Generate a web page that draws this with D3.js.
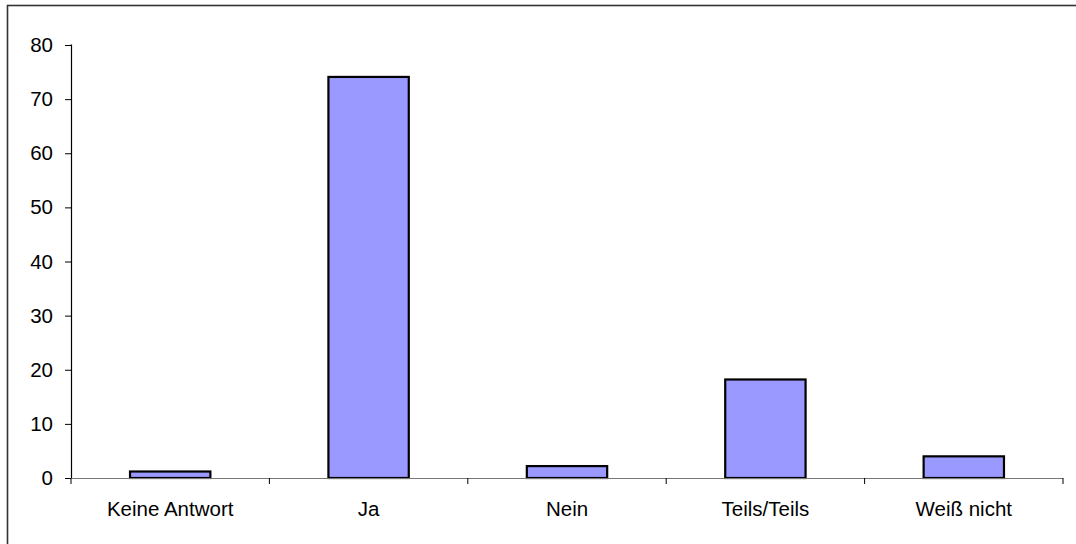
<!DOCTYPE html>
<html><head><meta charset="utf-8">
<script src="https://cdn.jsdelivr.net/npm/d3@7"></script>
<style>body{margin:0;background:#fff}svg{display:block}</style>
</head><body>
<svg id="c" width="1076" height="544"></svg>
<script>
const categories = ["Keine Antwort", "Ja", "Nein", "Teils/Teils", "Weiß nicht"];
const values = [1.2, 74.1, 2.2, 18.2, 4.0];
const yTicks = [0, 10, 20, 30, 40, 50, 60, 70, 80];

const svg = d3.select("#c");
const font = "'Liberation Sans', Arial, sans-serif";

// outer frame (top and left visible)
svg.append("rect").attr("x", 7.5).attr("y", 5.5).attr("width", 1200).attr("height", 700)
  .attr("fill", "none").attr("stroke", "#333").attr("stroke-width", 1.6);

const x0 = 71, x1 = 1063, yTop = 45, yBot = 478;
const x = d3.scaleBand().domain(categories).range([x0, x1]).paddingInner(0).paddingOuter(0);
const y = d3.scaleLinear().domain([0, 80]).range([yBot, yTop]);
const bw = x.bandwidth() * 0.405;

// bars
svg.append("g").selectAll("rect").data(values).join("rect")
  .attr("x", (d, i) => x(categories[i]) + x.bandwidth() / 2 - bw / 2)
  .attr("y", d => y(d))
  .attr("width", bw)
  .attr("height", d => yBot - y(d))
  .attr("fill", "#9999FF").attr("stroke", "#000").attr("stroke-width", 2.2);

// y axis
const ya = svg.append("g").attr("transform", `translate(${x0},0)`)
  .call(d3.axisLeft(y).tickValues(yTicks).tickSize(6).tickPadding(12).tickFormat(d3.format("d")));
ya.select(".domain").attr("stroke", "#000").attr("stroke-width", 1.2).attr("d", `M-0.5,${yTop}H0.5V${yBot}`);
ya.selectAll(".tick line").attr("stroke", "#000");
ya.selectAll("text").attr("font-family", font).attr("font-size", 20.5).attr("fill", "#000");

// x axis
const xa = svg.append("g").attr("transform", `translate(0,${yBot})`)
  .call(d3.axisBottom(x).tickSize(0).tickPadding(0));
xa.select(".domain").attr("stroke", "#777").attr("stroke-width", 1.2).attr("d", `M${x0},0.5H${x1}`);
xa.selectAll(".tick text").attr("font-family", font).attr("font-size", 20.5).attr("fill", "#000")
  .attr("dy", null).attr("y", 38);
// category separator ticks
const sep = d3.range(categories.length + 1).map(i => x0 + i * x.step());
xa.append("g").selectAll("line").data(sep).join("line")
  .attr("x1", d => d).attr("x2", d => d).attr("y1", 0).attr("y2", 6)
  .attr("stroke", "#000").attr("stroke-width", 1);
</script>
</body></html>
